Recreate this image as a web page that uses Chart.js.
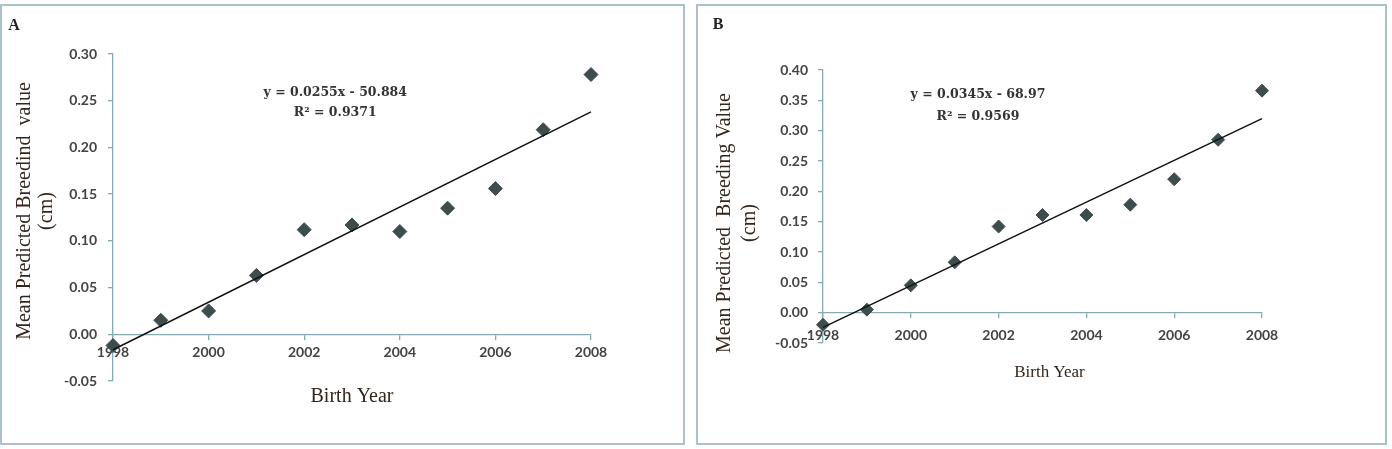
<!DOCTYPE html>
<html>
<head>
<meta charset="utf-8">
<script src="https://cdn.jsdelivr.net/npm/chart.js@4"></script>
<style>
  html, body { margin: 0; padding: 0; background: #fff; }
  body { width: 1392px; height: 449px; position: relative; overflow: hidden; }
  .panel { position: absolute; border: 2px solid #adc1ca; box-sizing: border-box; }
  .box { position: absolute; top: 0; height: 449px; }
</style>
</head>
<body>
<div class="panel" style="left:0;top:4px;width:685px;height:441px"></div>
<div class="panel" style="left:696px;top:4px;width:691px;height:441px"></div>
<div class="box" style="left:0;width:690px"><canvas id="chartA"></canvas></div>
<div class="box" style="left:690px;width:702px"><canvas id="chartB"></canvas></div>
<script>
// ── data ─────────────────────────────────────────────────────
const years = [1998, 1999, 2000, 2001, 2002, 2003, 2004, 2005, 2006, 2007, 2008];
const bvA = [-0.012, 0.015, 0.025, 0.063, 0.112, 0.117, 0.110, 0.135, 0.156, 0.219, 0.278];
const bvB = [-0.020, 0.005, 0.045, 0.083, 0.142, 0.161, 0.161, 0.178, 0.220, 0.285, 0.366];

const xTicks = [1998, 2000, 2002, 2004, 2006, 2008];
const yTicksA = [-0.05, 0, 0.05, 0.10, 0.15, 0.20, 0.25, 0.30];
const yTicksB = [-0.05, 0, 0.05, 0.10, 0.15, 0.20, 0.25, 0.30, 0.35, 0.40];

const eqA = ["y = 0.0255x - 50.884", "R² = 0.9371"];
const eqB = ["y = 0.0345x - 68.97", "R² = 0.9569"];

const AXIS = "#88aab4";
const MARK = "#3d4d4e";
const TITLE = "#35261c";

// least-squares trend line, same as the Excel trendline
function trend(xs, ys) {
  const n = xs.length;
  const mx = xs.reduce((s, v) => s + v, 0) / n;
  const my = ys.reduce((s, v) => s + v, 0) / n;
  let sxy = 0, sxx = 0;
  xs.forEach((x, i) => { sxy += (x - mx) * (ys[i] - my); sxx += (x - mx) * (x - mx); });
  const b = sxy / sxx;
  const a = my - b * mx;
  const x0 = xs[0], x1 = xs[n - 1];
  return [{ x: x0, y: a + b * x0 }, { x: x1, y: a + b * x1 }];
}

// letter, equation and axis titles
const panelText = {
  id: "panelText",
  afterDraw(chart, args, o) {
    const { ctx, chartArea: a, scales } = chart;
    ctx.save();
    ctx.textBaseline = "middle";

    ctx.fillStyle = "#222";
    ctx.textAlign = "center";
    ctx.font = 'bold 16px "Liberation Serif"';
    ctx.fillText(o.letter, o.letterX, o.letterY);

    ctx.font = 'bold 12.5px "DejaVu Serif"';
    ctx.fillStyle = "#333";
    const ex = scales.x.getPixelForValue(o.eqAt[0]);
    const ey = scales.y.getPixelForValue(o.eqAt[1]);
    o.eq.forEach((t, i) => ctx.fillText(t, ex, ey + i * o.eqGap));

    ctx.fillStyle = TITLE;
    ctx.font = o.xTitleSize + 'px "Liberation Serif"';
    ctx.fillText("Birth Year", (a.left + a.right) / 2 + o.xTitleDx, o.xTitleY);

    ctx.font = o.yTitleSize + 'px "Liberation Serif"';
    ctx.translate(o.yTitleX, o.yTitleY);
    ctx.rotate(-Math.PI / 2);
    o.yTitle.forEach((t, i) => ctx.fillText(t, 0, i * o.yTitleGap));
    ctx.restore();
  }
};

function makeChart(id, vals, yTicks, yMax, cfg) {
  return new Chart(document.getElementById(id), {
    type: "scatter",
    data: {
      datasets: [
        {
          type: "line",
          data: trend(years, vals),
          borderColor: "#111",
          borderWidth: 1.5,
          pointRadius: 0,
          fill: false,
          clip: false
        },
        {
          data: years.map((y, i) => ({ x: y, y: vals[i] })),
          pointStyle: "rectRot",
          pointRadius: cfg.markR,
          backgroundColor: MARK,
          borderColor: MARK,
          borderWidth: 1,
          clip: false
        }
      ]
    },
    options: {
      responsive: true,
      maintainAspectRatio: false,
      animation: false,
      events: [],
      layout: { padding: cfg.pad },
      plugins: {
        legend: { display: false },
        tooltip: { enabled: false },
        panelText: cfg.text
      },
      scales: {
        x: {
          type: "linear",
          position: { y: 0 },
          min: 1998,
          max: 2008,
          afterBuildTicks: (s) => { s.ticks = xTicks.map((v) => ({ value: v })); },
          ticks: {
            callback: (v) => String(v),
            color: "#444",
            font: { family: "Lato", size: 14, weight: "bold" },
            padding: cfg.xPad,
            maxRotation: 0
          },
          grid: { drawOnChartArea: false, drawTicks: true, tickLength: 5, color: AXIS, lineWidth: 1.3 },
          border: { display: true, color: AXIS, width: 1.3 }
        },
        y: {
          type: "linear",
          min: -0.05,
          max: yMax,
          afterBuildTicks: (s) => { s.ticks = yTicks.map((v) => ({ value: v })); },
          afterFit: (s) => { s.width = cfg.yWidth; },
          ticks: {
            callback: (v) => v.toFixed(2),
            color: "#444",
            font: { family: "Lato", size: 14, weight: "bold" },
            padding: cfg.yPad
          },
          grid: { drawOnChartArea: false, drawTicks: true, tickLength: 5, color: AXIS, lineWidth: 1.3 },
          border: { display: true, color: AXIS, width: 1.3 }
        }
      }
    },
    plugins: [panelText]
  });
}

makeChart("chartA", bvA, yTicksA, 0.30, {
  pad: { left: 0, top: 54, right: 99, bottom: 68 },
  yWidth: 113,
  xPad: 5,
  yPad: 11,
  markR: 7,
  text: {
    letter: "A", letterX: 14, letterY: 26,
    eq: eqA, eqAt: [2002.65, 0.258], eqGap: 20,
    xTitleSize: 20, xTitleY: 397, xTitleDx: 0,
    yTitle: ["Mean Predicted Breedind  value", "(cm)"],
    yTitleSize: 20, yTitleX: 25, yTitleY: 211, yTitleGap: 22
  }
});

makeChart("chartB", bvB, yTicksB, 0.40, {
  pad: { left: 0, top: 70, right: 130, bottom: 106 },
  yWidth: 133,
  xPad: 9,
  yPad: 10,
  markR: 6.5,
  text: {
    letter: "B", letterX: 28, letterY: 25,
    eq: eqB, eqAt: [2001.53, 0.359], eqGap: 22,
    xTitleSize: 17, xTitleY: 373, xTitleDx: 7,
    yTitle: ["Mean Predicted  Breeding Value", "(cm)"],
    yTitleSize: 20, yTitleX: 35, yTitleY: 223, yTitleGap: 25
  }
});
</script>
</body>
</html>
